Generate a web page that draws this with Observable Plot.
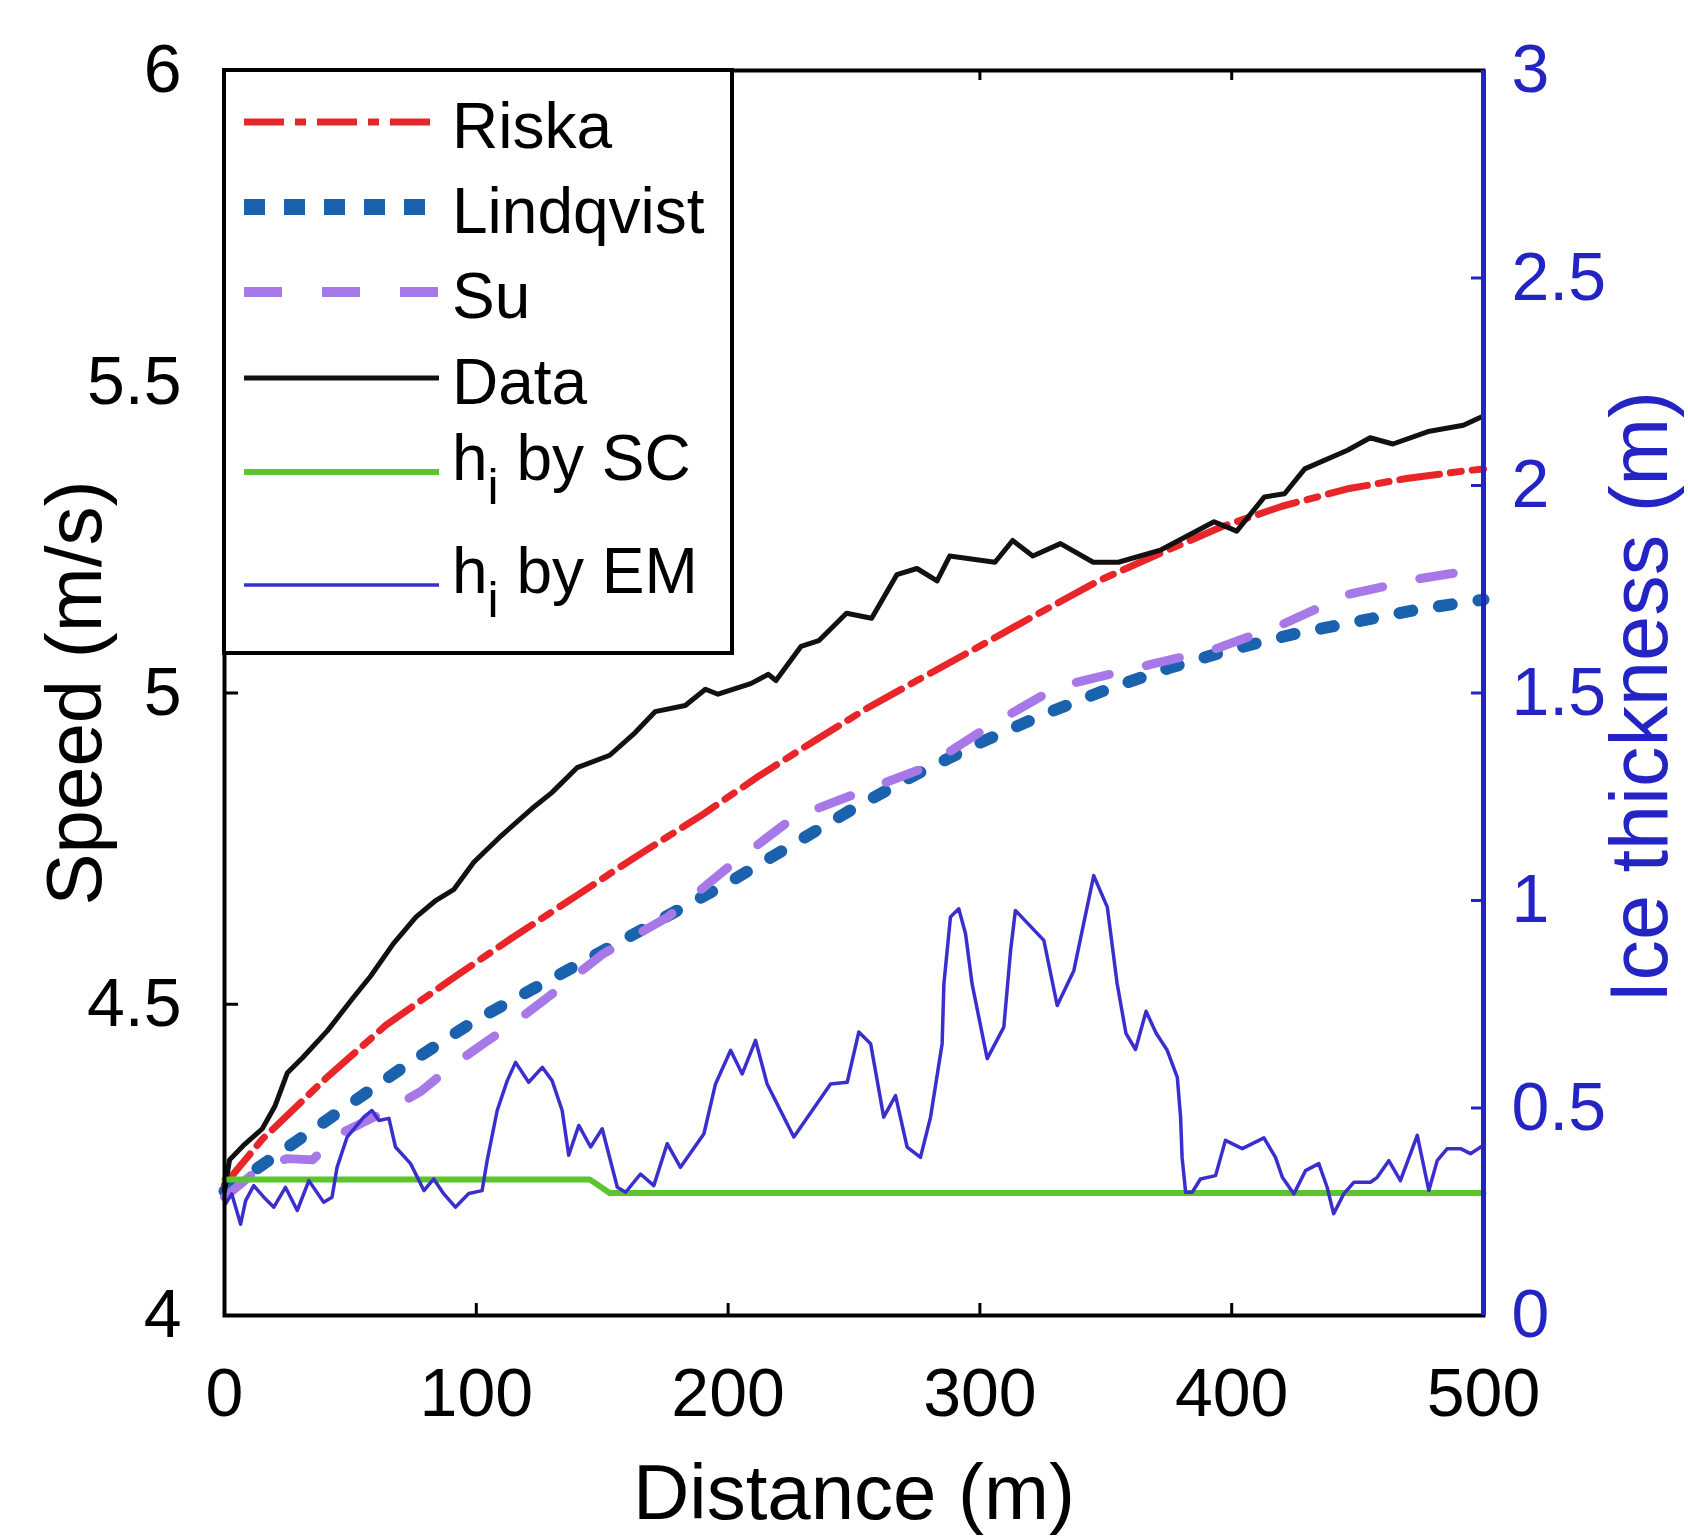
<!DOCTYPE html>
<html>
<head>
<meta charset="utf-8">
<script src="https://cdn.jsdelivr.net/npm/d3@7"></script>
<script src="https://cdn.jsdelivr.net/npm/@observablehq/plot@0.6"></script>
<style>
  html, body { margin: 0; padding: 0; background: #ffffff; }
  #chart { width: 1688px; height: 1540px; }
  svg { overflow: visible; }
</style>
</head>
<body>
<div id="chart"></div>
<script>
// ---------------- data (distance m, value) ----------------
const seriesNames = ["Riska", "Lindqvist", "Su", "Data", "h_i by SC", "h_i by EM"];

const riska = [[0,4.21],[15,4.283],[40,4.38],[64,4.466],[90,4.54],[114,4.606],[140,4.675],[163,4.736],[190,4.805],[212,4.866],[235,4.925],[255,4.975],[275,5.02],[298,5.071],[322,5.125],[347,5.18],[372,5.225],[396,5.267],[420,5.30],[446,5.328],[470,5.345],[491,5.356],[500,5.36]];

const lindqvist = [[0,4.20],[25,4.27],[50,4.34],[75,4.41],[100,4.475],[125,4.53],[150,4.585],[175,4.64],[200,4.695],[225,4.755],[250,4.815],[275,4.87],[300,4.92],[325,4.965],[350,5.005],[375,5.04],[400,5.07],[425,5.095],[450,5.115],[475,5.135],[500,5.15]];

const su = [[0,4.19],[15,4.24],[25,4.252],[35,4.25],[45,4.29],[55,4.31],[65,4.33],[78,4.36],[90,4.40],[104,4.44],[115,4.47],[128,4.51],[150,4.58],[176,4.64],[200,4.72],[226,4.80],[252,4.84],[278,4.88],[305,4.95],[331,5.01],[367,5.045],[393,5.07],[420,5.11],[446,5.158],[475,5.184],[500,5.20]];

const dataSpeed = [[0,4.20],[2,4.25],[8,4.275],[15,4.30],[20,4.336],[25,4.39],[31,4.414],[41,4.458],[51,4.51],[58,4.545],[67,4.597],[76,4.64],[84,4.667],[91,4.684],[99,4.728],[110,4.771],[122,4.814],[130,4.84],[140,4.88],[153,4.90],[163,4.936],[171,4.97],[183,4.98],[191,5.006],[196,4.998],[209,5.015],[216,5.03],[219,5.02],[229,5.075],[236,5.084],[247,5.128],[257,5.12],[267,5.19],[275,5.20],[283,5.18],[288,5.22],[306,5.21],[313,5.245],[321,5.22],[332,5.24],[345,5.21],[355,5.21],[372,5.23],[393,5.275],[402,5.26],[413,5.315],[421,5.32],[429,5.36],[446,5.39],[455,5.41],[464,5.40],[478,5.42],[492,5.43],[500,5.445]];

// ice thickness (m)
const hiSC = [[0,0.328],[145,0.328],[153,0.295],[500,0.295]];

const hiEM = [[0.4,0.269],[2.9,0.293],[6.4,0.22],[8.4,0.277],[11.6,0.313],[15.6,0.285],[19.6,0.261],[24.2,0.309],[28.9,0.253],[33.5,0.325],[39.4,0.273],[42.7,0.285],[44.7,0.357],[48.7,0.43],[55.3,0.478],[58.6,0.494],[61.3,0.47],[65.3,0.475],[67.9,0.406],[73.9,0.366],[79.2,0.301],[83.1,0.329],[87.1,0.293],[91.7,0.261],[97,0.294],[102.3,0.301],[104.3,0.373],[108.3,0.494],[112.3,0.566],[115.6,0.61],[120.8,0.562],[126.2,0.598],[130.1,0.566],[134.1,0.494],[136.7,0.386],[140.7,0.458],[145.4,0.406],[150,0.45],[156,0.309],[159.3,0.297],[165.2,0.341],[170.5,0.313],[175.8,0.414],[181.1,0.357],[190.4,0.438],[195,0.558],[201,0.639],[205.6,0.582],[210.9,0.663],[215.5,0.558],[226.1,0.43],[240.7,0.558],[247.3,0.562],[251.9,0.683],[256.6,0.655],[261.8,0.478],[266.5,0.53],[271.1,0.406],[276.4,0.381],[280.4,0.478],[285,0.655],[285.7,0.799],[288.3,0.96],[291.6,0.98],[294.3,0.92],[296.9,0.799],[302.9,0.619],[309.5,0.695],[312.2,0.88],[314.1,0.976],[325.4,0.904],[330.7,0.747],[337.3,0.831],[345.2,1.06],[350.6,0.984],[354.5,0.80],[358,0.68],[361.8,0.641],[366,0.733],[370,0.68],[374.4,0.639],[378.4,0.574],[379.7,0.478],[380.3,0.381],[381.7,0.297],[384.3,0.297],[387.6,0.329],[393.6,0.337],[397.5,0.422],[404.2,0.402],[412.8,0.428],[417.4,0.381],[420.1,0.333],[424.7,0.293],[429.3,0.349],[434.6,0.366],[437.9,0.309],[440.5,0.245],[444.5,0.293],[448.5,0.321],[455.1,0.321],[457.8,0.333],[462.4,0.373],[467,0.325],[473.7,0.434],[478.3,0.301],[481.6,0.373],[485.6,0.402],[490.9,0.402],[494.8,0.39],[500,0.41]];

// ticks
const xTicks = [0, 100, 200, 300, 400, 500];
const speedTicks = [4, 4.5, 5, 5.5, 6];
const thickTicks = [0, 0.5, 1, 1.5, 2, 2.5, 3];
const xLabel = "Distance (m)";
const yLabel = "Speed (m/s)";
const y2Label = "Ice thickness (m)";

// ---------------- layout / style ----------------
const W = 1688, H = 1540;
const mL = 224, mR = 205, mT = 70, mB = 225;
const plotW = W - mL - mR, plotH = H - mT - mB;
const FONT = "'Liberation Sans', Arial, Helvetica, sans-serif";
const AXIS_BLUE = "#2424c4";
const C = {
  riska: "#e8262a", lind: "#1a62ad", su: "#a678e8", data: "#111111",
  sc: "#5cc42c", em: "#3a2ecf"
};

// thickness (0..3) mapped onto the speed scale (4..6)
const thickToSpeed = t => 4 + t * 2 / 3;
const speedToThick = v => (v - 4) * 1.5;

const innerX = xTicks.filter(d => d > 0 && d < 500);
const innerY = speedTicks.filter(d => d > 4 && d < 6);
const innerT = thickTicks.filter(d => d > 0 && d < 3).map(thickToSpeed);

const chart = Plot.plot({
  width: W, height: H,
  marginLeft: mL, marginRight: mR, marginTop: mT, marginBottom: mB,
  x: {domain: [0, 500]},
  y: {domain: [4, 6]},
  style: {fontFamily: FONT, background: "white", color: "black"},
  marks: [
    // series
    Plot.line(riska, {x: d => d[0], y: d => d[1], stroke: C.riska, strokeWidth: 7, strokeDasharray: "40,11,11,11"}),
    Plot.line(lindqvist, {x: d => d[0], y: d => d[1], stroke: C.lind, strokeWidth: 12, strokeDasharray: "13,27"}),
    Plot.line(su, {x: d => d[0], y: d => d[1], stroke: C.su, strokeWidth: 9, strokeDasharray: "34,38"}),
    Plot.line(dataSpeed, {x: d => d[0], y: d => d[1], stroke: C.data, strokeWidth: 5, strokeLinejoin: "round"}),
    Plot.line(hiSC, {x: d => d[0], y: d => thickToSpeed(d[1]), stroke: C.sc, strokeWidth: 6}),
    Plot.line(hiEM, {x: d => d[0], y: d => thickToSpeed(d[1]), stroke: C.em, strokeWidth: 3.5, strokeLinejoin: "round"}),
    // frame
    Plot.frame({stroke: "black", strokeWidth: 4}),
    Plot.ruleX([500], {stroke: AXIS_BLUE, strokeWidth: 5}),
    // inward ticks
    Plot.tickX(innerX, {x: d => d, stroke: "black", strokeWidth: 3, insetTop: plotH - 12}),
    Plot.tickX(innerX, {x: d => d, stroke: "black", strokeWidth: 3, insetBottom: plotH - 10}),
    Plot.tickY(innerY, {y: d => d, stroke: "black", strokeWidth: 3, insetRight: plotW - 14}),
    Plot.tickY(innerT, {y: d => d, stroke: AXIS_BLUE, strokeWidth: 3, insetLeft: plotW - 12}),
    // axes labels
    Plot.axisX(xTicks, {tickSize: 0, tickPadding: 52, fontSize: 68, label: null, fill: "black"}),
    Plot.axisY(speedTicks, {anchor: "left", tickSize: 0, tickPadding: 43, fontSize: 68, label: null, fill: "black",
      tickFormat: v => String(v)}),
    Plot.axisY(thickTicks.map(thickToSpeed), {anchor: "right", tickSize: 0, tickPadding: 28, fontSize: 68, label: null,
      fill: AXIS_BLUE, tickFormat: v => String(Math.round(speedToThick(v) * 10) / 10)}),
    // axis titles
    Plot.text([xLabel], {text: d => d, frameAnchor: "bottom", dy: 203, textAnchor: "middle", lineAnchor: "bottom", fontSize: 78, fill: "black"}),
    Plot.text([yLabel], {text: d => d, frameAnchor: "left", dx: -148, rotate: -90, textAnchor: "middle", lineAnchor: "middle", fontSize: 78, fill: "black"}),
    Plot.text([y2Label], {text: d => d, frameAnchor: "right", dx: 158, dy: 4, rotate: -90, textAnchor: "middle", lineAnchor: "middle", fontSize: 81, fill: AXIS_BLUE})
  ]
});

document.getElementById("chart").appendChild(chart);

// ---------------- legend (inside the axes, top-left) ----------------
const svg = d3.select(chart);
const lg = svg.append("g").attr("font-family", FONT).attr("text-anchor", "start");
lg.append("rect").attr("x", mL).attr("y", mT).attr("width", 508).attr("height", 583)
  .attr("fill", "white").attr("stroke", "black").attr("stroke-width", 4);

const legendStyle = [
  {stroke: C.riska, w: 7, dash: "40,11,11,11"},
  {stroke: C.lind, w: 16, dash: "21,19"},
  {stroke: C.su, w: 10, dash: "38,40"},
  {stroke: C.data, w: 5, dash: null},
  {stroke: C.sc, w: 6, dash: null},
  {stroke: C.em, w: 3.5, dash: null}
];
const rowY = [122, 207, 292, 378, 472, 585];
seriesNames.forEach((name, i) => {
  const st = legendStyle[i];
  const y = rowY[i];
  const ln = lg.append("line").attr("x1", 244).attr("x2", 439).attr("y1", y).attr("y2", y)
    .attr("stroke", st.stroke).attr("stroke-width", st.w);
  if (st.dash) ln.attr("stroke-dasharray", st.dash);
  const isH = name.startsWith("h_i");
  const t = lg.append("text").attr("x", 452).attr("font-size", 64).attr("fill", "black")
    .attr("text-anchor", "start");
  if (isH) {
    t.attr("y", y + 8);
    t.append("tspan").text("h");
    t.append("tspan").attr("dy", 24).attr("font-size", 50).text("i");
    t.append("tspan").attr("dy", -24).text(" " + name.slice(4));
  } else {
    t.attr("y", y + 26).text(name);
  }
});
</script>
</body>
</html>
